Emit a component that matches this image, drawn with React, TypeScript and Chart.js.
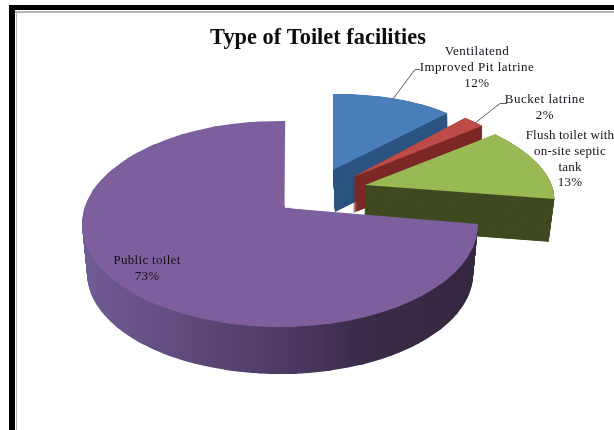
import { useEffect, useRef } from "react";
import { Chart, registerables } from "chart.js";

Chart.register(...registerables);

const chartTitle = "Type of Toilet facilities";
const categories = [
  "Ventilatend Improved Pit latrine",
  "Bucket latrine",
  "Flush toilet with on-site septic tank",
  "Public toilet",
];
const shares = [12, 2, 13, 73];
const topColors = ["#4a7ebb", "#be4b48", "#98b954", "#7d5f9e"];
const sideColors = ["#2d5580", "#7d2a28", "#404b23", "#4f3d66"];

// Wrapped label lines, one list per slice; the percentage is appended when drawn.
const labelLines = [
  ["Ventilatend", "Improved Pit latrine"],
  ["Bucket latrine"],
  ["Flush toilet with", "on-site septic", "tank"],
  ["Public toilet"],
];
const labelTracking = [0.5, 0.5, 0.2, 0.3];

type Vec = [number, number];
// A frame maps the pie's unit circle onto the tilted plane between two spokes.
type Frame = { a: number; oa: Vec; b: number; ob: Vec };
type Projection = {
  apex: Vec;
  drop: Vec;
  shrink: number;
  frames: Frame[];
};

const spokes = (list: [number, Vec][]): Frame[] =>
  list.slice(0, -1).map(([a, oa], i) => ({ a, oa, b: list[i + 1][0], ob: list[i + 1][1] }));

const rad = (deg: number) => (deg * Math.PI) / 180;
const unit = (deg: number): Vec => [Math.sin(rad(deg)), -Math.cos(rad(deg))];

// The large slice sits on a perspective ellipse whose centre lies below its apex,
// so its rim is followed in short frames around that ellipse.
function largeSliceFrames(apex: Vec): Frame[] {
  const before = shares.slice(0, -1).reduce((sum, v) => sum + v, 0);
  const start = (before / 100) * 360;
  const centre: Vec = [280, 224];
  const radii: Vec = [198, 103];
  const rimAt = (deg: number): Vec => {
    const phi = 90 + ((deg - start) * 271.5) / (360 - start);
    return [
      centre[0] + radii[0] * Math.sin(rad(phi)) - apex[0],
      centre[1] - radii[1] * Math.cos(rad(phi)) - apex[1],
    ];
  };
  const list: [number, Vec][] = [];
  for (let deg = 90; deg <= 360; deg += 10) list.push([deg, rimAt(deg)]);
  return spokes(list);
}

// Exploded slices: each has its own apex, extrusion and foreshortening.
const projections: Projection[] = [
  { apex: [333, 170], drop: [2, 42], shrink: 0.99, frames: spokes([[0, [0, -76]], [90, [167, -2]]]) },
  { apex: [353, 177], drop: [0, 36], shrink: 0.99, frames: spokes([[0, [-17, -84]], [90, [182, 3]]]) },
  { apex: [365, 185], drop: [-1, 43], shrink: 0.975, frames: spokes([[0, [-23, -84]], [90, [188, 3.5]]]) },
  { apex: [284.5, 208], drop: [0, 50], shrink: 0.975, frames: largeSliceFrames([284.5, 208]) },
];

// Paints one arc element through its projection, displaced by `depth` (0 = top face, 1 = base).
function paintArc(ctx: CanvasRenderingContext2D, el: any, proj: Projection, depth: number, fill: any) {
  const copy = Object.create(el);
  copy.options = { ...el.options, backgroundColor: fill, borderWidth: 0 };
  const r = el.outerRadius;
  const scale = 1 + (proj.shrink - 1) * depth;
  const ax = proj.apex[0] + proj.drop[0] * depth;
  const ay = proj.apex[1] + proj.drop[1] * depth;
  const multi = proj.frames.length > 1;
  for (const f of proj.frames) {
    const [n1x, n1y] = unit(f.a);
    const [n2x, n2y] = unit(f.b);
    const det = n1x * n2y - n2x * n1y;
    const m00 = ((f.oa[0] * n2y - f.ob[0] * n1y) / det) * (scale / r);
    const m01 = ((f.ob[0] * n1x - f.oa[0] * n2x) / det) * (scale / r);
    const m10 = ((f.oa[1] * n2y - f.ob[1] * n1y) / det) * (scale / r);
    const m11 = ((f.ob[1] * n1x - f.oa[1] * n2x) / det) * (scale / r);
    ctx.save();
    ctx.transform(m00, m10, m01, m11, ax - m00 * el.x - m01 * el.y, ay - m10 * el.x - m11 * el.y);
    if (multi) {
      // Neighbouring frames overlap a little, including just behind the apex, to hide seams.
      const mid = unit((f.a + f.b) / 2);
      const s = unit(f.a - 0.5);
      const e = unit(f.b + 0.5);
      ctx.beginPath();
      ctx.moveTo(el.x - 0.04 * r * mid[0], el.y - 0.04 * r * mid[1]);
      ctx.lineTo(el.x + 3 * r * s[0], el.y + 3 * r * s[1]);
      ctx.lineTo(el.x + 3 * r * mid[0], el.y + 3 * r * mid[1]);
      ctx.lineTo(el.x + 3 * r * e[0], el.y + 3 * r * e[1]);
      ctx.closePath();
      ctx.clip();
    }
    copy.draw(ctx);
    ctx.restore();
  }
}

// The outer wall of the large slice darkens from left to right.
function shadedWall(chart: any, el: any, proj: Projection) {
  const off = document.createElement("canvas");
  off.width = chart.width;
  off.height = chart.height;
  const octx = off.getContext("2d")!;
  for (let step = 50; step > 0; step--) paintArc(octx, el, proj, step / 50, "#000");
  octx.globalCompositeOperation = "source-in";
  const g = octx.createLinearGradient(85, 0, 475, 0);
  g.addColorStop(0, "#705c94");
  g.addColorStop(0.3, "#5c4877");
  g.addColorStop(0.55, "#4a3760");
  g.addColorStop(0.72, "#3a2b48");
  g.addColorStop(1, "#352740");
  octx.fillStyle = g;
  octx.fillRect(0, 0, off.width, off.height);
  // The wall never shows inside the notch behind the apex.
  octx.globalCompositeOperation = "source-over";
  octx.clearRect(proj.apex[0] - 20, 100, 40, proj.apex[1] - 100);
  return off;
}

const pie3d = {
  id: "pie3d",
  beforeDraw(chart: any) {
    const { ctx } = chart;
    ctx.save();
    ctx.fillStyle = "#ffffff";
    ctx.fillRect(0, 0, chart.width, chart.height);
    // Picture frame
    ctx.fillStyle = "#000000";
    ctx.fillRect(9, 5, chart.width - 9, 5);
    ctx.fillRect(9, 5, 6, chart.height - 5);
    ctx.fillStyle = "#b5b5b5";
    ctx.fillRect(15, 11, chart.width - 15, 2);
    ctx.fillRect(16, 11, 1, chart.height - 11);
    ctx.restore();
  },
  beforeDatasetDraw(chart: any, args: any) {
    const { ctx } = chart;
    const arcs = chart.getDatasetMeta(args.index).data;
    arcs.forEach((el: any, i: number) => {
      const proj = projections[i];
      if (i === 3) {
        ctx.drawImage(shadedWall(chart, el, proj), 0, 0);
      } else {
        const steps = Math.round(proj.drop[1]) * 4;
        for (let s = steps; s > 0; s--) paintArc(ctx, el, proj, s / steps, sideColors[i]);
      }
      paintArc(ctx, el, proj, 0, topColors[i]);
    });
    return false;
  },
  afterDatasetsDraw(chart: any) {
    const { ctx } = chart;
    ctx.save();
    // Leader lines for the two labels set away from their slices
    ctx.strokeStyle = "#5c5c5c";
    ctx.lineWidth = 1;
    for (const path of [
      [[393, 99], [415, 69.5], [420, 69.5]],
      [[475, 123], [500, 103.5], [507, 103.5]],
    ]) {
      ctx.beginPath();
      path.forEach(([x, y], k) => (k ? ctx.lineTo(x, y) : ctx.moveTo(x, y)));
      ctx.stroke();
    }
    ctx.fillStyle = "#150f1c";
    ctx.font = '13px "Liberation Serif"';
    ctx.textAlign = "center";
    ctx.textBaseline = "alphabetic";
    const anchors: Vec[] = [[477, 55], [545, 103], [570, 139], [147, 264]];
    labelLines.forEach((lines, i) => {
      ctx.letterSpacing = `${labelTracking[i]}px`;
      const rows = [...lines, `${shares[i]}%`];
      rows.forEach((row, k) => ctx.fillText(row, anchors[i][0], anchors[i][1] + k * 15.8));
    });
    ctx.restore();
  },
};

export default function App() {
  const ref = useRef<HTMLCanvasElement>(null);
  useEffect(() => {
    const chart = new Chart(ref.current!, {
      type: "pie",
      data: {
        labels: categories,
        datasets: [{ data: shares, backgroundColor: topColors, borderWidth: 0 }],
      },
      options: {
        responsive: false,
        animation: false,
        layout: { padding: { left: 22, top: 17 } },
        plugins: {
          legend: { display: false },
          tooltip: { enabled: false },
          title: {
            display: true,
            text: chartTitle,
            color: "#0d0d0d",
            font: { family: '"Liberation Serif"', size: 22.4, weight: "bold" },
            padding: { top: 8, bottom: 4 },
          },
        },
      },
      plugins: [pie3d],
    } as any);
    return () => chart.destroy();
  }, []);
  return (
    <div style={{ position: "absolute", left: 0, top: 0, width: 614, height: 430, overflow: "hidden" }}>
      <canvas ref={ref} width={614} height={430} style={{ display: "block" }} />
    </div>
  );
}
